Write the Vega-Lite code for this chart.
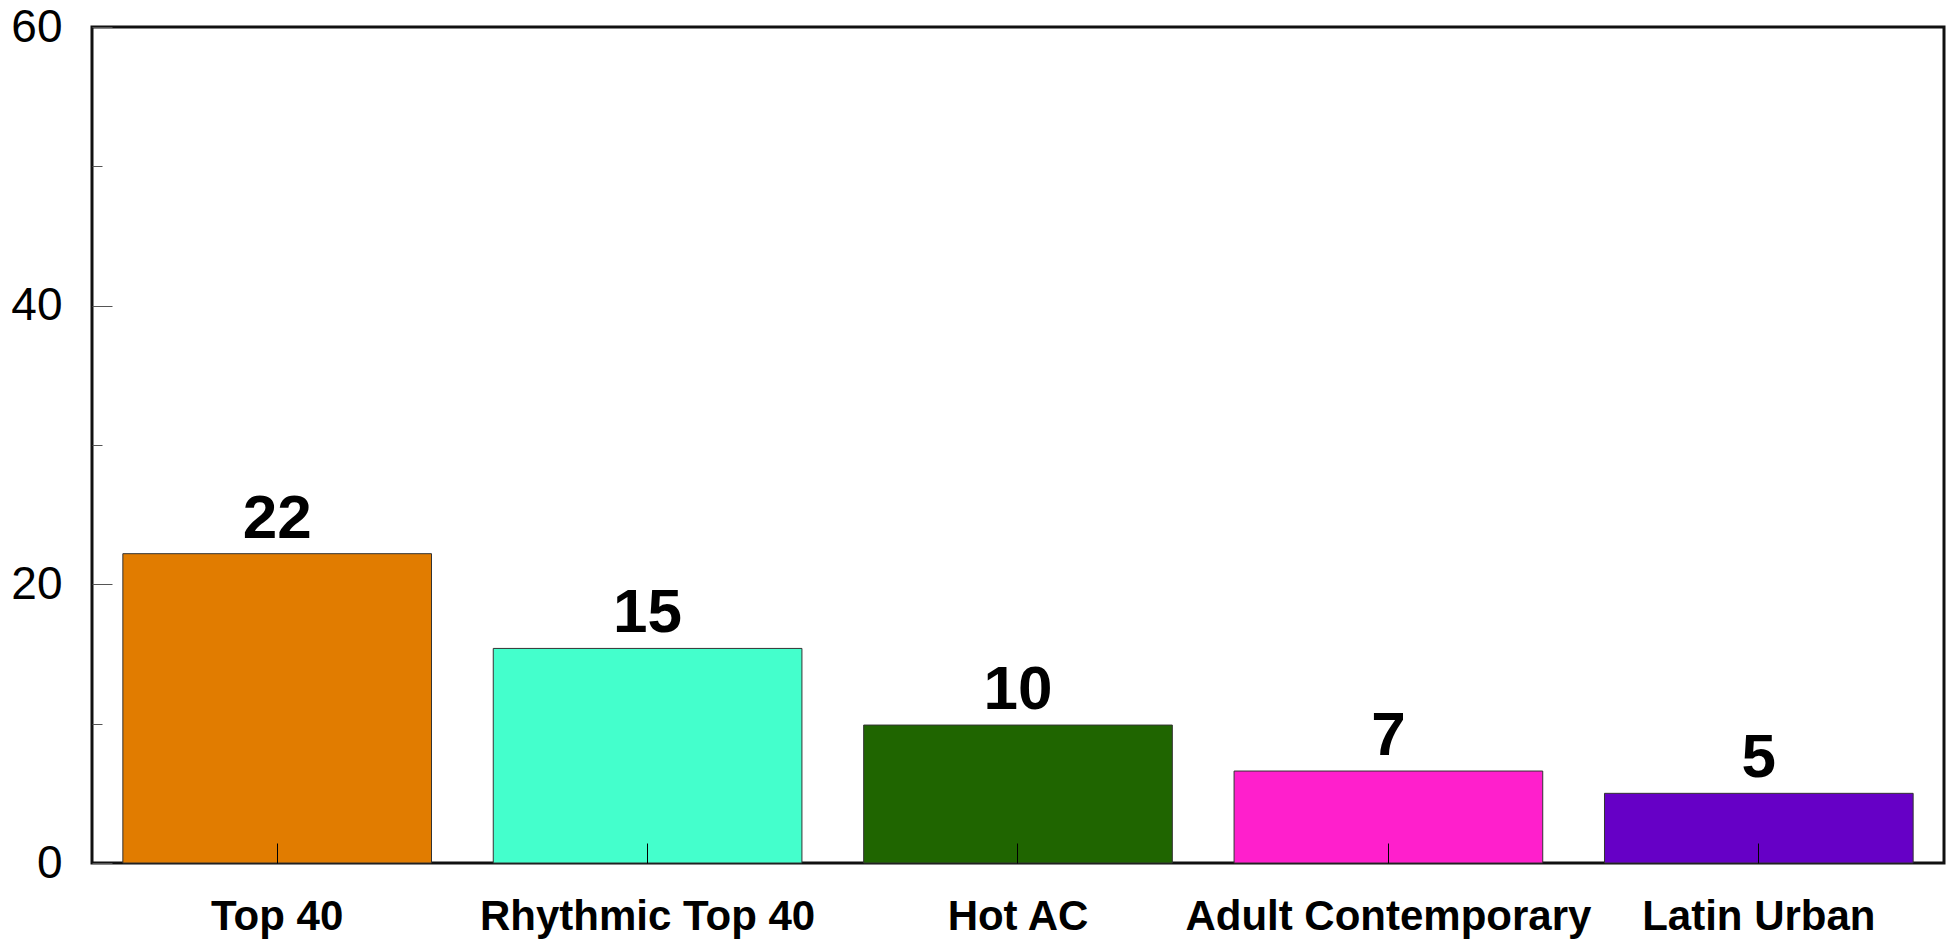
{
  "$schema": "https://vega.github.io/schema/vega-lite/v6.json",
  "autosize": "none",
  "padding": {"left": 92, "top": 27, "right": 7, "bottom": 77},
  "width": 1852,
  "height": 836,
  "background": "white",
  "config": {
    "font": "Liberation Sans",
    "view": {"stroke": "#111111", "strokeWidth": 3}
  },
  "data": {
    "values": [
      {"format": "Top 40", "count": 22.2, "color": "#e17c00"},
      {"format": "Rhythmic Top 40", "count": 15.4, "color": "#44ffcc"},
      {"format": "Hot AC", "count": 9.9, "color": "#1f6500"},
      {"format": "Adult Contemporary", "count": 6.6, "color": "#ff1fcc"},
      {"format": "Latin Urban", "count": 5.0, "color": "#6600c6"}
    ]
  },
  "encoding": {
    "x": {
      "field": "format",
      "type": "nominal",
      "sort": null,
      "scale": {"paddingInner": 0.1667, "paddingOuter": 0.0833},
      "axis": {
        "title": null,
        "domain": false,
        "zindex": 1,
        "labelAngle": 0,
        "labelLimit": 2000,
        "labelOverlap": false,
        "labelFont": "Liberation Sans",
        "labelFontWeight": "bold",
        "labelFontSize": 42,
        "labelColor": "#000000",
        "tickSize": -20,
        "tickColor": "#000000",
        "tickWidth": 1,
        "labelPadding": 53
      }
    },
    "y": {
      "field": "count",
      "type": "quantitative",
      "scale": {"domain": [0, 60], "nice": false},
      "axis": {
        "title": null,
        "domain": false,
        "grid": false,
        "zindex": 1,
        "values": [0, 10, 20, 30, 40, 50, 60],
        "labelExpr": "datum.value % 20 === 0 ? datum.label : ''",
        "labelFont": "Liberation Sans",
        "labelFontSize": 46,
        "labelColor": "#000000",
        "tickSize": {"condition": {"test": "datum.value % 20 === 0", "value": -20}, "value": -10},
        "tickColor": "#555555",
        "tickWidth": 1,
        "labelPadding": 50
      }
    }
  },
  "layer": [
    {
      "mark": {"type": "bar", "stroke": "#333333", "strokeWidth": 1},
      "encoding": {
        "color": {"field": "color", "type": "nominal", "scale": null}
      }
    },
    {
      "mark": {"type": "text", "baseline": "alphabetic", "align": "center", "dy": -16, "fontSize": 62, "fontWeight": "bold", "font": "Liberation Sans", "color": "#000000"},
      "encoding": {
        "text": {"field": "count", "type": "quantitative", "format": ".0f"}
      }
    }
  ]
}
